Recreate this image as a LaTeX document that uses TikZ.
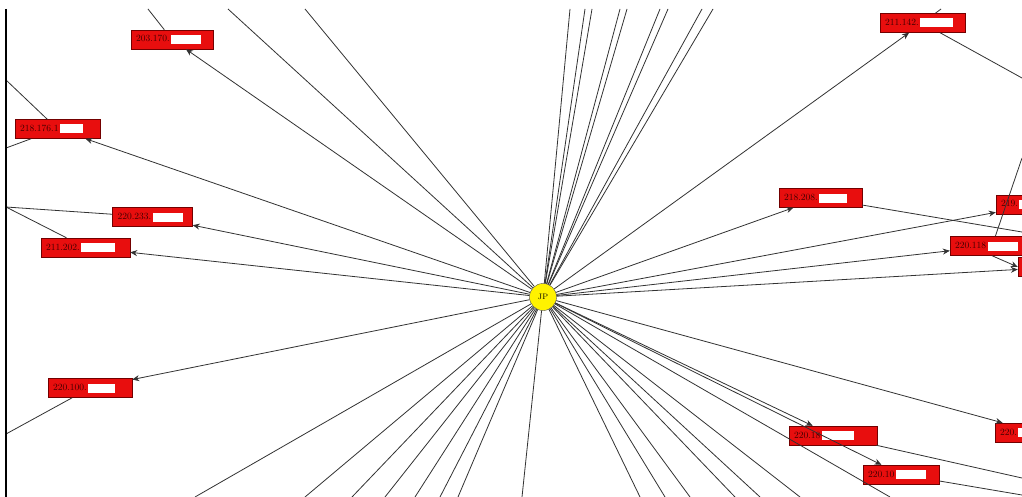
\documentclass[tikz,border=0pt]{standalone}
\usepackage{xcolor}
\usepackage{tikz}
\usetikzlibrary{arrows.meta, positioning, shapes.geometric}

\definecolor{hostred}{RGB}{232,14,14}
\definecolor{edgegray}{RGB}{50,50,50}
\newcommand{\blot}[1]{{\color{white}\rule[-2pt]{#1pt}{9pt}}}

\begin{document}
\begin{tikzpicture}[x=1pt, y=-1pt, >={Stealth[length=7pt,width=6pt]},
        host/.style={rectangle, draw=red!45!black, fill=hostred, minimum height=19pt, text width=#1, inner xsep=5pt, inner ysep=0pt, align=left, font=\fontsize{9.5}{10}\selectfont, text=red!25!black},
        hub/.style={circle, draw=black!70, fill=yellow, minimum size=27pt, inner sep=0pt, font=\fontsize{8}{9}\selectfont},
        link/.style={draw=edgegray, line width=0.8pt}]

    \useasboundingbox (0,0) rectangle (1022,497);
    \fill[white] (0,0) rectangle (1022,497);

    \begin{scope}
    \clip (6,9) rectangle (1022,497);

    % hub and hosts
    \node (jp) [hub] at (543,297) {JP};
    \node (n1) [host=72pt] at (172,39.5) {203.170.\,\blot{30}};
    \node (n2) [host=75pt] at (57.5,129) {218.176.1\,\blot{23}};
    \node (n3) [host=70pt] at (152.5,217) {220.233.\,\blot{30}};
    \node (n4) [host=79pt] at (85.5,247.5) {211.202.\,\blot{34}};
    \node (n5) [host=74pt] at (90,388) {220.100.\,\blot{27}};
    \node (n6) [host=75pt] at (922.5,23) {211.142.\,\blot{33}};
    \node (n7) [host=73pt] at (820.5,198) {218.208.\,\blot{28}};
    \node (n8) [host=74pt] at (1038,204.5) {219.\,\blot{30}};
    \node (n9) [host=74pt] at (992,246) {220.118\,\blot{30}};
    \node (n10) [host=74pt] at (1060,267) {};
    \node (n11) [host=78pt] at (833,435.5) {220.18\,\blot{32}};
    \node (n12) [host=66pt] at (901,474.5) {220.10\,\blot{30}};
    \node (n13) [host=76pt] at (1038,432.5) {220.\,\blot{30}};

    % free ends outside the view
    \coordinate (o1) at (148,9);
    \coordinate (o2) at (6,80);
    \coordinate (o3) at (6,148);
    \coordinate (o4) at (6,207);
    \coordinate (o5) at (6,434);
    \coordinate (o6) at (1022,78);
    \coordinate (o7) at (941,9);
    \coordinate (o8) at (1022,232);
    \coordinate (o9) at (1022,158);
    \coordinate (o10) at (1022,478);
    \coordinate (o11) at (1022,495);

    \coordinate (t1) at (228,9);
    \coordinate (t2) at (305,9);
    \coordinate (t3) at (570,9);
    \coordinate (t4) at (585,9);
    \coordinate (t5) at (592,9);
    \coordinate (t6) at (620,9);
    \coordinate (t7) at (627,9);
    \coordinate (t8) at (660,9);
    \coordinate (t9) at (668,9);
    \coordinate (t10) at (702,9);
    \coordinate (t11) at (713,9);

    \coordinate (b1) at (195,497);
    \coordinate (b2) at (305,497);
    \coordinate (b3) at (352,497);
    \coordinate (b4) at (385,497);
    \coordinate (b5) at (415,497);
    \coordinate (b6) at (440,497);
    \coordinate (b7) at (458,497);
    \coordinate (b8) at (522,497);
    \coordinate (b9) at (640,497);
    \coordinate (b10) at (665,497);
    \coordinate (b11) at (690,497);
    \coordinate (b12) at (735,497);
    \coordinate (b13) at (760,497);
    \coordinate (b14) at (800,497);
    \coordinate (b15) at (890,497);

    % edges from the hub
    \draw[link, ->] (jp) -- (n1);
    \draw[link, ->] (jp) -- (n2);
    \draw[link, ->] (jp) -- (n3);
    \draw[link, ->] (jp) -- (n4);
    \draw[link, ->] (jp) -- (n5);
    \draw[link, ->] (jp) -- (n6);
    \draw[link, ->] (jp) -- (n7);
    \draw[link, ->] (jp) -- (n8);
    \draw[link, ->] (jp) -- (n9);
    \draw[link, ->] (jp) -- (n10);
    \draw[link, ->] (jp) -- (n11);
    \draw[link, ->] (jp) -- (n12);
    \draw[link, ->] (jp) -- (n13);
    \draw[link, ->] (n9.south) -- (n10.west);

    \draw[link] (jp) -- (t1);
    \draw[link] (jp) -- (t2);
    \draw[link] (jp) -- (t3);
    \draw[link] (jp) -- (t4);
    \draw[link] (jp) -- (t5);
    \draw[link] (jp) -- (t6);
    \draw[link] (jp) -- (t7);
    \draw[link] (jp) -- (t8);
    \draw[link] (jp) -- (t9);
    \draw[link] (jp) -- (t10);
    \draw[link] (jp) -- (t11);

    \draw[link] (jp) -- (b1);
    \draw[link] (jp) -- (b2);
    \draw[link] (jp) -- (b3);
    \draw[link] (jp) -- (b4);
    \draw[link] (jp) -- (b5);
    \draw[link] (jp) -- (b6);
    \draw[link] (jp) -- (b7);
    \draw[link] (jp) -- (b8);
    \draw[link] (jp) -- (b9);
    \draw[link] (jp) -- (b10);
    \draw[link] (jp) -- (b11);
    \draw[link] (jp) -- (b12);
    \draw[link] (jp) -- (b13);
    \draw[link] (jp) -- (b14);
    \draw[link] (jp) -- (b15);

    % edges leaving the view
    \draw[link] (n1) -- (o1);
    \draw[link] (n2) -- (o2);
    \draw[link] (n2) -- (o3);
    \draw[link] (n3) -- (o4);
    \draw[link] (n4) -- (o4);
    \draw[link] (n5) -- (o5);
    \draw[link] (n6) -- (o6);
    \draw[link] (n6) -- (o7);
    \draw[link] (n7) -- (o8);
    \draw[link] (n9) -- (o9);
    \draw[link] (n11) -- (o10);
    \draw[link] (n12) -- (o11);
    \end{scope}

    \draw[line width=1.5pt] (6,9) -- (6,497);
\end{tikzpicture}
\end{document}
